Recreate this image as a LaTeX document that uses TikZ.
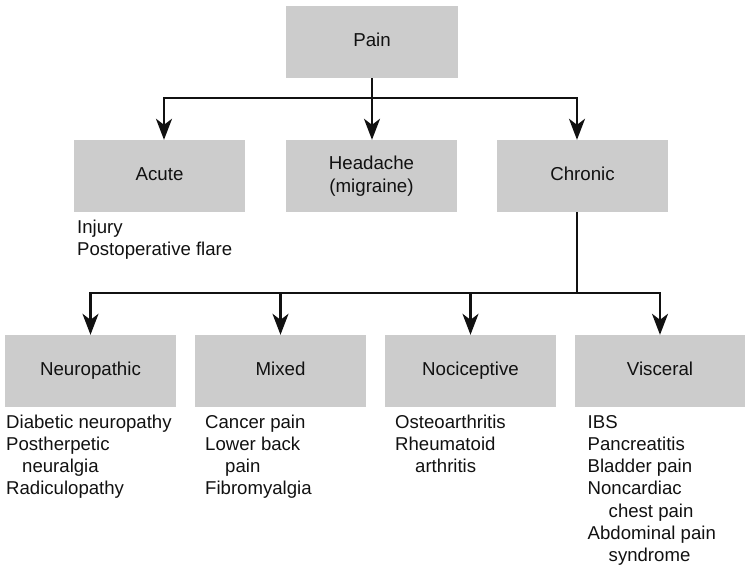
\documentclass[tikz,border=0pt]{standalone}
\usepackage{fontspec}
\setmainfont{Liberation Sans}
\usetikzlibrary{arrows.meta}
\definecolor{boxgrey}{HTML}{CCCCCC}
\definecolor{ink}{HTML}{111111}
\begin{document}
\begin{tikzpicture}[x=1pt,y=-1pt,
  catbox/.style={draw=none, fill=boxgrey, rectangle, minimum width=171pt, minimum height=72pt, inner sep=0pt,
    font=\fontsize{18.7}{22.5}\selectfont, text=ink, align=center, text height=13.5pt, text depth=4.5pt},
  conn/.style={line width=2.2pt, draw=ink},
  arr/.style={conn, -{Stealth[length=21pt, width=16pt, inset=6pt]}},
  listtext/.style={anchor=base west, inner sep=0pt, text=ink, font=\fontsize{18.6}{22.3}\selectfont}
]
\useasboundingbox (0,0) rectangle (745,566);

% boxes
\node[catbox, minimum width=172pt] (pain) at (372,42) {Pain};
\node[catbox] (acute) at (159.5,176) {Acute};
\node[catbox, text height=, text depth=] (headache) at (371.5,176) {Headache\\(migraine)};
\node[catbox] (chronic) at (582.5,176) {Chronic};

\node[catbox] (neuro) at (90.5,371) {Neuropathic};
\node[catbox] (mixed) at (280.5,371) {Mixed};
\node[catbox] (noci) at (470.5,371) {Nociceptive};
\node[catbox, minimum width=170pt] (visc) at (660,371) {Visceral};

% connectors top
\coordinate (jt) at (372,98);
\coordinate (ja) at (164,98);
\coordinate (jc) at (577,98);
\draw[conn] (pain.south) -- (jt);
\draw[arr] (jt) -- (ja) -- (ja |- acute.north);
\draw[arr] (jt) -- (jc) -- (jc |- chronic.north);
\draw[arr] (pain.south) -- (pain.south |- headache.north);

% connectors bottom
\coordinate (jb) at (577,293);
\draw[conn] (jb |- chronic.south) -- (jb);
\draw[arr] (jb) -| (neuro.north);
\draw[arr] (jb) -| (visc.north);
\draw[arr] (mixed.north |- jb) -- (mixed.north);
\draw[arr] (noci.north |- jb) -- (noci.north);

% lists
\node[listtext] (lacute) at (77,233.3) {\parbox[t]{170pt}{\raggedright Injury\\Postoperative flare}};
\node[listtext] (lneuro) at (6,428) {\parbox[t]{185pt}{\raggedright Diabetic neuropathy\\Postherpetic\\\hspace*{16pt}neuralgia\\Radiculopathy}};
\node[listtext] (lmixed) at (205,428) {\parbox[t]{170pt}{\raggedright Cancer pain\\Lower back\\\hspace*{20pt}pain\\Fibromyalgia}};
\node[listtext] (lnoci) at (395,428) {\parbox[t]{170pt}{\raggedright Osteoarthritis\\Rheumatoid\\\hspace*{20pt}arthritis}};
\node[listtext] (lvisc) at (587.5,428) {\parbox[t]{158pt}{\raggedright IBS\\Pancreatitis\\Bladder pain\\Noncardiac\\\hspace*{21pt}chest pain\\Abdominal pain\\\hspace*{21pt}syndrome}};
\end{tikzpicture}
\end{document}
